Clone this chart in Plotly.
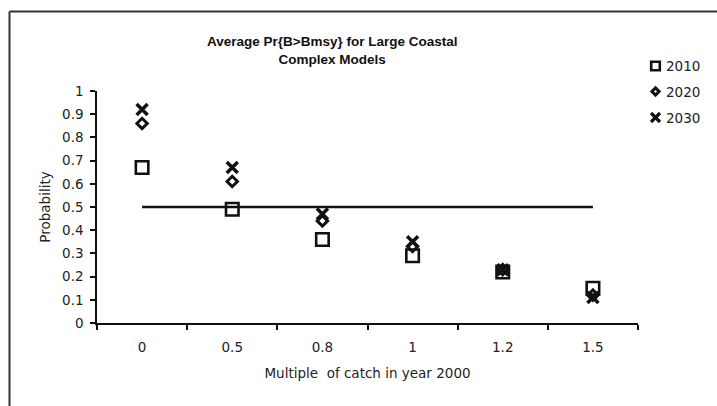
import plotly.graph_objects as go

# Catch multiples (categories) and probability of B > Bmsy by year
categories = ["0", "0.5", "0.8", "1", "1.2", "1.5"]
pr_2010 = [0.67, 0.49, 0.36, 0.29, 0.22, 0.15]
pr_2020 = [0.86, 0.61, 0.44, 0.33, 0.23, 0.12]
pr_2030 = [0.92, 0.67, 0.47, 0.35, 0.23, 0.11]
threshold_x = ["0", "1.5"]
threshold_y = [0.5, 0.5]
y_ticks = [0, 0.1, 0.2, 0.3, 0.4, 0.5, 0.6, 0.7, 0.8, 0.9, 1]
legend_labels = ["2010", "2020", "2030"]

FONT = "DejaVu Sans, Liberation Sans, Arial, sans-serif"
TITLE_FONT = "Liberation Sans, Arial, sans-serif"
INK = "#111111"
TEXT = "#222222"

# Plot-area geometry in pixels (used to place paper-anchored items)
W, H = 717, 406
L, R, T, B = 97, 79, 91, 83
pw, ph = W - L - R, H - T - B


def px_x(px):
    return (px - L) / pw


def px_y(py):
    return (H - B - py) / ph


fig = go.Figure()

fig.add_trace(go.Scatter(
    x=threshold_x, y=threshold_y, mode="lines",
    line=dict(color=INK, width=2.5), showlegend=False, hoverinfo="skip",
))

series = [
    (pr_2010, dict(symbol="square-open", size=12.5, color=INK, line=dict(width=2.6, color=INK))),
    (pr_2020, dict(symbol="diamond-open", size=8, color=INK, line=dict(width=3, color=INK))),
    (pr_2030, dict(symbol="x-thin-open", size=11, color=INK, line=dict(width=3.5, color=INK))),
]
for (vals, mk), name in zip(series, legend_labels):
    fig.add_trace(go.Scatter(x=categories, y=vals, mode="markers", name=name,
                             marker=mk, showlegend=False))

# Chart frame (top and left edges)
frame = dict(color="#333333", width=2)
fig.add_shape(type="line", xref="paper", yref="paper",
              x0=px_x(9.5), x1=px_x(W + 5), y0=px_y(11.5), y1=px_y(11.5), line=frame)
fig.add_shape(type="line", xref="paper", yref="paper",
              x0=px_x(9.5), x1=px_x(9.5), y0=px_y(11.5), y1=px_y(H + 5), line=frame)

# Legend: symbol key drawn beside each year label
sx, half = 655.5, 5.5
rows = [66, 91.5, 117.5]
# square key
y0 = rows[0]
fig.add_shape(type="rect", xref="paper", yref="paper",
              x0=px_x(sx - half + 1.2), x1=px_x(sx + half - 1.2),
              y0=px_y(y0 - half + 1.2), y1=px_y(y0 + half - 1.2),
              line=dict(color=INK, width=2.6), fillcolor="rgba(0,0,0,0)")
# diamond key
y1 = rows[1]
d = 3.6
fig.add_shape(type="path", xref="paper", yref="paper",
              path=(f"M {px_x(sx)} {px_y(y1 - d)} L {px_x(sx + d)} {px_y(y1)} "
                    f"L {px_x(sx)} {px_y(y1 + d)} L {px_x(sx - d)} {px_y(y1)} Z"),
              line=dict(color=INK, width=3), fillcolor="rgba(0,0,0,0)")
# cross key
y2 = rows[2]
c = 4.5
for a, b in [(-1, 1), (1, -1)]:
    fig.add_shape(type="line", xref="paper", yref="paper",
                  x0=px_x(sx - c), x1=px_x(sx + c),
                  y0=px_y(y2 + a * c), y1=px_y(y2 + b * c),
                  line=dict(color=INK, width=3.2))
for lab, ry in zip(legend_labels, rows):
    fig.add_annotation(text=lab, xref="paper", yref="paper",
                       x=px_x(664), y=px_y(ry), xanchor="left", yanchor="middle",
                       showarrow=False, font=dict(family=FONT, size=13.5, color=TEXT))

fig.add_annotation(
    text="<b>Average Pr{B>Bmsy} for Large Coastal<br>Complex Models</b>",
    xref="paper", yref="paper", x=px_x(332), y=px_y(50),
    xanchor="center", yanchor="middle", showarrow=False,
    font=dict(family=TITLE_FONT, size=13.5, color=INK),
)

fig.update_layout(
    width=W, height=H,
    margin=dict(l=L, r=R, t=T, b=B, pad=0),
    paper_bgcolor="white", plot_bgcolor="white",
    font=dict(family=FONT, size=13.5, color=TEXT),
    showlegend=False,
    xaxis=dict(
        type="category", categoryorder="array", categoryarray=categories,
        range=[-0.5, 5.5], tickson="boundaries", automargin=False,
        showline=True, linecolor=INK, linewidth=1.5,
        ticks="outside", ticklen=5, tickwidth=1.5, tickcolor=INK,
        ticklabelstandoff=11,
        showgrid=False, zeroline=False,
        title=dict(text="Multiple  of catch in year 2000", standoff=15,
                   font=dict(family=FONT, size=13.5, color=TEXT)),
        tickfont=dict(family=FONT, size=13.5, color=TEXT),
    ),
    yaxis=dict(
        range=[0, 1], tickvals=y_ticks, ticktext=[f"{v:g}" for v in y_ticks],
        automargin=False,
        showline=True, linecolor=INK, linewidth=1.5,
        ticks="outside", ticklen=5, tickwidth=1.5, tickcolor=INK,
        ticklabelstandoff=4,
        showgrid=False, zeroline=False,
        title=dict(text="Probability", standoff=8,
                   font=dict(family=FONT, size=13.5, color=TEXT)),
        tickfont=dict(family=FONT, size=13.5, color=TEXT),
    ),
)

fig.write_html("out.html")
